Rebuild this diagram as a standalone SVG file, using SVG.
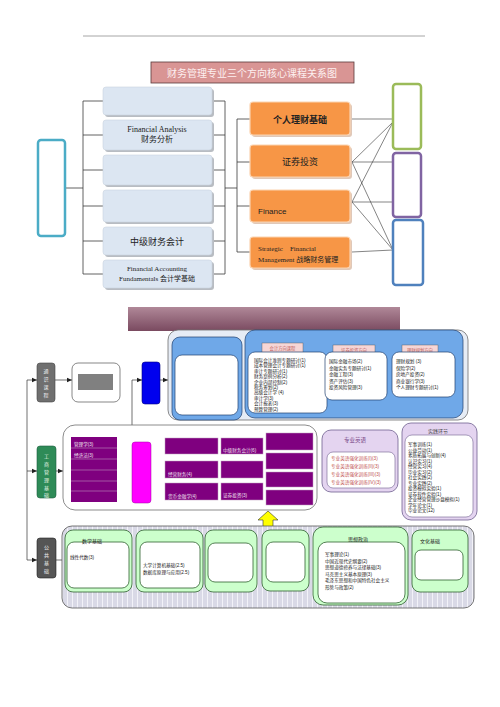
<svg xmlns="http://www.w3.org/2000/svg" width="500" height="707" viewBox="0 0 500 707">
<defs>
<style>
.lb{fill:#dce6f2;stroke:#c9d3df;stroke-width:0.6}
.sh{fill:#b8bcc2}
.or{fill:#f79646;stroke:#fbd3b0;stroke-width:1.2}
.ln{fill:none;stroke:#3a3a3a;stroke-width:0.8}
.xl{fill:none;stroke:#333;stroke-width:0.6}
.cn{fill:none;stroke:#333;stroke-width:0.7}
.pu{fill:#7f007f;stroke:#c0a0c0;stroke-width:0.5}
.gb{fill:#ccffcc;stroke:#2f5f2f;stroke-width:0.8}
.wb{fill:#fff;stroke:#2f5f2f;stroke-width:0.8}
.wbb{fill:#fff;stroke:#1f3f6f;stroke-width:0.7}
.cjk{font-family:"Liberation Sans","Noto Sans CJK SC",sans-serif}
.ser{font-family:"Liberation Serif","Noto Sans CJK SC",serif}
.t5{font-size:4.6px;fill:#222;font-family:"Liberation Sans","Noto Sans CJK SC",sans-serif}
.tw{font-size:4.6px;fill:#f0e0f0;font-family:"Liberation Sans","Noto Sans CJK SC",sans-serif}
.tr{font-size:4.6px;fill:#c0504d;font-family:"Liberation Sans","Noto Sans CJK SC",sans-serif}
</style>
<linearGradient id="ban" x1="0" y1="0" x2="0" y2="1">
<stop offset="0" stop-color="#b08898"/>
<stop offset="1" stop-color="#7a4a60"/>
</linearGradient>
<pattern id="str" width="5" height="10" patternUnits="userSpaceOnUse">
<rect width="5" height="10" fill="#d9d9e6"/>
<line x1="2.5" y1="0" x2="2.5" y2="10" stroke="#f2f2f8" stroke-width="1"/>
</pattern>
<marker id="ar" markerWidth="6" markerHeight="6" refX="5" refY="3" orient="auto" markerUnits="userSpaceOnUse">
<path d="M0,0.8 L5,3 L0,5.2 Z" fill="#222"/>
</marker>
</defs>
<rect width="500" height="707" fill="#fff"/>
<line x1="83" y1="36" x2="425" y2="36" stroke="#a6a6a6" stroke-width="1"/>

<g id="title">
<rect x="151" y="62" width="203" height="21" fill="#d99594" stroke="#5a3a3a" stroke-width="0.8"/>
<text x="252" y="77" font-size="10" fill="#fdf0f0" text-anchor="middle" class="cjk">财务管理专业三个方向核心课程关系图</text>
</g>

<g id="connectors-top">
<path class="ln" d="M65,188 H83 M83,101 V274 M83,101 H103 M83,135 H103 M83,170 H103 M83,206 H103 M83,241 H103 M83,274 H103"/>
<path class="ln" d="M212,101 H225 M212,135 H225 M212,170 H225 M212,206 H225 M212,241 H225 M212,274 H225 M225,101 V274 M225,188 H237"/>
<path class="ln" d="M237,119 V252 M237,119 H250 M237,162 H250 M237,206 H250 M237,252 H250"/>
<path class="xl" d="M352,119 L393,119 M352,162 L393,122 M352,162 L393,162 M352,162 L393,250 M352,202 L393,122 M352,202 L393,202 M352,202 L393,250 M352,252 L393,250"/>
</g>

<g id="teal-box"><rect x="38" y="140" width="27" height="96" rx="3" fill="#fff" stroke="#4bacc6" stroke-width="2.5"/></g>

<g id="lb1"><rect class="sh" x="105" y="89" width="109" height="28" rx="3"/><rect class="lb" x="103" y="87" width="109" height="28" rx="3"/></g>
<g id="lb2"><rect class="sh" x="105" y="122" width="109" height="30" rx="3"/><rect class="lb" x="103" y="120" width="109" height="30" rx="3"/>
<text x="157" y="132" font-size="8" fill="#222" text-anchor="middle" class="ser">Financial Analysis</text>
<text x="157" y="142" font-size="8" fill="#222" text-anchor="middle" class="ser">财务分析</text></g>
<g id="lb3"><rect class="sh" x="105" y="157" width="109" height="30" rx="3"/><rect class="lb" x="103" y="155" width="109" height="30" rx="3"/></g>
<g id="lb4"><rect class="sh" x="105" y="192" width="109" height="32" rx="3"/><rect class="lb" x="103" y="190" width="109" height="32" rx="3"/></g>
<g id="lb5"><rect class="sh" x="105" y="229" width="109" height="28" rx="3"/><rect class="lb" x="103" y="227" width="109" height="28" rx="3"/>
<text x="157" y="245" font-size="9" fill="#222" text-anchor="middle" class="cjk">中级财务会计</text></g>
<g id="lb6"><rect class="sh" x="105" y="262" width="109" height="28" rx="3"/><rect class="lb" x="103" y="260" width="109" height="28" rx="3"/>
<text x="157" y="271" font-size="7" fill="#222" text-anchor="middle" class="ser">Financial Accounting</text>
<text x="157" y="281" font-size="7" fill="#222" text-anchor="middle" class="ser">Fundamentals  会计学基础</text></g>

<g id="or1"><rect x="252" y="104" width="100" height="33" rx="3" fill="#e0c8b8"/><rect class="or" x="250" y="102" width="100" height="33" rx="3"/>
<text x="300" y="123" font-size="9" fill="#222" text-anchor="middle" class="cjk" font-weight="bold">个人理财基础</text></g>
<g id="or2"><rect x="252" y="147" width="100" height="32" rx="3" fill="#e0c8b8"/><rect class="or" x="250" y="145" width="100" height="32" rx="3"/>
<text x="300" y="165" font-size="9" fill="#222" text-anchor="middle" class="cjk">证券投资</text></g>
<g id="or3"><rect x="252" y="192" width="100" height="32" rx="3" fill="#e0c8b8"/><rect class="or" x="250" y="190" width="100" height="32" rx="3"/>
<text x="258" y="214" font-size="8" fill="#222" class="cjk">Finance</text></g>
<g id="or4"><rect x="252" y="239" width="100" height="31" rx="3" fill="#e0c8b8"/><rect class="or" x="250" y="237" width="100" height="31" rx="3"/>
<text x="258" y="251" font-size="7" fill="#222" class="ser" xml:space="preserve">Strategic    Financial</text>
<text x="258" y="262" font-size="7" fill="#222" class="ser">Management 战略财务管理</text></g>

<g id="green-box"><rect x="393" y="84" width="28" height="65" rx="3" fill="#fff" stroke="#9bbb59" stroke-width="2.5"/></g>
<g id="purple-box"><rect x="393" y="153" width="28" height="64" rx="3" fill="#fff" stroke="#8064a2" stroke-width="2.5"/></g>
<g id="blue-box"><rect x="393" y="220" width="30" height="65" rx="3" fill="#fff" stroke="#4f81bd" stroke-width="2.5"/></g>

<g id="banner"><rect x="128" y="307" width="272" height="24" fill="url(#ban)"/></g>

<g id="connectors-bottom">
<path class="cn" d="M27,380 V560"/>
<path class="cn" d="M27,380 H37" marker-end="url(#ar)"/>
<path class="cn" d="M27,471 H37" marker-end="url(#ar)"/>
<path class="cn" d="M27,560 H37" marker-end="url(#ar)"/>
<path class="cn" d="M55,380 H72" marker-end="url(#ar)"/>
<path class="cn" d="M132,425 V380 H142" marker-end="url(#ar)"/>
<path class="cn" d="M160,380 H168" marker-end="url(#ar)"/>
<path class="cn" d="M56,471 H63" marker-end="url(#ar)"/>
<path class="cn" d="M151,471 H160" marker-end="url(#ar)"/>
<path class="cn" d="M162,446 V492 M162,446 H165 M162,469 H165 M162,492 H165"/>
<path class="cn" d="M56,560 H62"/>
<path d="M117,467 H126 V462 L134,471 L126,480 V475 H117 Z" fill="#f26522" stroke="#c04000" stroke-width="0.4"/>
<path d="M263,530 V520 H258 L268,511 L278,520 H273 V530 Z" fill="#ffff00" stroke="#333" stroke-width="0.6"/>
</g>

<g id="tongshi">
<rect x="37" y="363" width="18" height="39" rx="3" fill="#6f6f6f" stroke="#444" stroke-width="0.6"/>
<text x="46" y="373" font-size="5" fill="#eee" text-anchor="middle" class="cjk">通</text>
<text x="46" y="381" font-size="5" fill="#eee" text-anchor="middle" class="cjk">识</text>
<text x="46" y="389" font-size="5" fill="#eee" text-anchor="middle" class="cjk">课</text>
<text x="46" y="397" font-size="5" fill="#eee" text-anchor="middle" class="cjk">程</text>
</g>
<g id="tongshi-box">
<rect x="72" y="363" width="48" height="39" rx="6" fill="#fff" stroke="#555" stroke-width="0.7"/>
<rect x="78" y="374" width="35" height="16" fill="#808080"/>
</g>
<g id="blue-node"><rect x="142" y="362" width="18" height="42" rx="3" fill="#0000ee" stroke="#000080" stroke-width="0.6"/></g>

<g id="direction-container">
<rect x="168" y="330" width="300" height="90" rx="10" fill="#e6ecf5" stroke="#6f6f6f" stroke-width="0.8"/>
<rect x="172" y="337" width="70" height="83" rx="8" fill="#6fa8e8" stroke="#1f3f6f" stroke-width="0.7"/>
<rect x="175" y="355" width="63" height="60" rx="7" class="wbb"/>
<rect x="245" y="330" width="218" height="88" rx="10" fill="#6fa8e8" stroke="#1f3f6f" stroke-width="0.7"/>
</g>
<g id="dir-accounting">
<rect x="262" y="343" width="41" height="10" fill="#f6d6d6" stroke="#555" stroke-width="0.4"/>
<text x="282.5" y="350" font-size="4.3" fill="#c06060" text-anchor="middle" class="cjk">会计方向课程</text>
<rect x="248" y="352" width="79" height="61" rx="7" class="wbb"/>
<text class="t5" x="254" y="362">国际会计准则专题研讨(1)</text>
<text class="t5" x="254" y="367.4">成本管理会计专题研讨(1)</text>
<text class="t5" x="254" y="372.8">审计专题研讨(1)</text>
<text class="t5" x="254" y="378.2">财务案例分析(2)</text>
<text class="t5" x="254" y="383.6">企业内部控制(2)</text>
<text class="t5" x="254" y="389">税务筹划(2)</text>
<text class="t5" x="254" y="394.4">高级会计学 (4)</text>
<text class="t5" x="254" y="399.8">审计学(3)</text>
<text class="t5" x="254" y="405.2">会计报表(3)</text>
<text class="t5" x="254" y="410.6">预算管理(2)</text>
</g>
<g id="dir-securities">
<rect x="333" y="345" width="42" height="9" fill="#f6d6d6" stroke="#555" stroke-width="0.4"/>
<text x="354" y="351.5" font-size="4.3" fill="#c06060" text-anchor="middle" class="cjk">证券投资方向</text>
<rect x="325" y="352" width="62" height="48" rx="7" class="wbb"/>
<text class="t5" x="329" y="363">国际金融市场(2)</text>
<text class="t5" x="329" y="369.5">金融实务专题研讨(1)</text>
<text class="t5" x="329" y="376">金融工程(3)</text>
<text class="t5" x="329" y="382.5">资产评估(3)</text>
<text class="t5" x="329" y="389">投资风险管理(3)</text>
</g>
<g id="dir-finance">
<rect x="402" y="345" width="36" height="9" fill="#f6d6d6" stroke="#555" stroke-width="0.4"/>
<text x="420" y="351.5" font-size="4.3" fill="#c06060" text-anchor="middle" class="cjk">理财规划方向</text>
<rect x="392" y="352" width="63" height="45" rx="7" class="wbb"/>
<text class="t5" x="396" y="363">理财规划 (3)</text>
<text class="t5" x="396" y="369.5">保险学(2)</text>
<text class="t5" x="396" y="376">房地产投资(2)</text>
<text class="t5" x="396" y="382.5">商业银行学(3)</text>
<text class="t5" x="396" y="389">个人理财专题研讨(1)</text>
</g>

<g id="gongshang">
<rect x="37" y="446" width="19" height="52" rx="3" fill="#2e8b57" stroke="#1f5f3f" stroke-width="0.6"/>
<text x="46.5" y="458" font-size="5" fill="#e8f5e8" text-anchor="middle" class="cjk">工</text>
<text x="46.5" y="466" font-size="5" fill="#e8f5e8" text-anchor="middle" class="cjk">商</text>
<text x="46.5" y="474" font-size="5" fill="#e8f5e8" text-anchor="middle" class="cjk">管</text>
<text x="46.5" y="482" font-size="5" fill="#e8f5e8" text-anchor="middle" class="cjk">理</text>
<text x="46.5" y="490" font-size="5" fill="#e8f5e8" text-anchor="middle" class="cjk">基</text>
<text x="46.5" y="497" font-size="5" fill="#e8f5e8" text-anchor="middle" class="cjk">础</text>
</g>
<g id="gongshang-container">
<rect x="63" y="425" width="254" height="85" rx="12" fill="#fff" stroke="#6f6f6f" stroke-width="0.8"/>
</g>
<g id="gs-list">
<rect x="71" y="437" width="46" height="65" fill="#7f007f"/>
<path d="M71,448 H117 M71,459 H117 M71,470 H117 M71,481 H117 M71,491 H117" stroke="#c8a8c8" stroke-width="0.5"/>
<text class="tw" x="74" y="446">管理学(3)</text>
<text class="tw" x="74" y="457">经济法(3)</text>
</g>
<g id="gs-magenta"><rect x="132" y="442" width="19" height="61" rx="3" fill="#ff00ff" stroke="#a000a0" stroke-width="0.5"/></g>
<g id="gs-c1r1"><rect class="pu" x="165" y="438" width="53" height="16"/></g>
<g id="gs-c1r2"><rect class="pu" x="165" y="461" width="53" height="17"/><text class="tw" x="168" y="476">经营财务(4)</text></g>
<g id="gs-c1r3"><rect class="pu" x="165" y="483" width="53" height="17"/><text class="tw" x="168" y="498">货币金融学(4)</text></g>
<g id="gs-c2r1"><rect class="pu" x="221" y="438" width="42" height="16"/><text class="tw" x="223" y="452">中级财务会计(6)</text></g>
<g id="gs-c2r2"><rect class="pu" x="221" y="461" width="42" height="17"/></g>
<g id="gs-c2r3"><rect class="pu" x="221" y="483" width="42" height="17"/><text class="tw" x="223" y="497">证券投资(3)</text></g>
<g id="gs-c3r1"><rect class="pu" x="266" y="433" width="47" height="17"/></g>
<g id="gs-c3r2"><rect class="pu" x="266" y="453" width="47" height="16"/></g>
<g id="gs-c3r3"><rect class="pu" x="266" y="472" width="47" height="15"/></g>
<g id="gs-c3r4"><rect class="pu" x="266" y="490" width="47" height="15"/></g>

<g id="english">
<rect x="322" y="430" width="76" height="62" rx="9" fill="#e4d4f0" stroke="#6f5f8f" stroke-width="0.8"/>
<text x="355" y="442" font-size="5.5" fill="#7a4a8a" text-anchor="middle" class="cjk">专业英语</text>
<rect x="327" y="452" width="68" height="36" rx="6" fill="#fff" stroke="#6f5f8f" stroke-width="0.6"/>
<text class="tr" x="331" y="460">专业英语强化训练(I)(3)</text>
<text class="tr" x="331" y="468">专业英语强化训练(II)(3)</text>
<text class="tr" x="331" y="476">专业英语强化训练(III)(3)</text>
<text class="tr" x="331" y="484">专业英语强化训练(IV)(3)</text>
</g>

<g id="practice">
<rect x="402" y="423" width="75" height="97" rx="9" fill="#e4d4f0" stroke="#6f5f8f" stroke-width="0.8"/>
<rect x="405" y="435" width="68" height="82" rx="7" fill="#fff" stroke="#6f5f8f" stroke-width="0.6"/>
<text x="438" y="433" font-size="5" fill="#444" text-anchor="middle" class="cjk">实践环节</text>
<text class="t5" x="408" y="446">军事训练(1)</text>
<text class="t5" x="408" y="451.5">公益劳动(1)</text>
<text class="t5" x="408" y="457">素质拓展与创新(4)</text>
<text class="t5" x="408" y="462.5">认识实习(1)</text>
<text class="t5" x="408" y="468">经营实习(4)</text>
<text class="t5" x="408" y="473.5">毕业实习(2)</text>
<text class="t5" x="408" y="479">社会实践(2)</text>
<text class="t5" x="408" y="484.5">专业实践(2)</text>
<text class="t5" x="408" y="490">投资模拟实验(1)</text>
<text class="t5" x="408" y="495.5">证券软件实验(1)</text>
<text class="t5" x="408" y="501">企业经营管理沙盘模拟(1)</text>
<text class="t5" x="408" y="506.5">学年论文(1)</text>
<text class="t5" x="408" y="512">毕业论文(12)</text>
</g>

<g id="gonggong">
<rect x="37" y="538" width="19" height="40" rx="3" fill="#555" stroke="#222" stroke-width="0.6"/>
<text x="46.5" y="549" font-size="5" fill="#eee" text-anchor="middle" class="cjk">公</text>
<text x="46.5" y="557" font-size="5" fill="#eee" text-anchor="middle" class="cjk">共</text>
<text x="46.5" y="565" font-size="5" fill="#eee" text-anchor="middle" class="cjk">基</text>
<text x="46.5" y="573" font-size="5" fill="#eee" text-anchor="middle" class="cjk">础</text>
</g>
<g id="gonggong-container">
<rect x="62" y="526" width="412" height="82" rx="10" fill="url(#str)" stroke="#555" stroke-width="0.8"/>
</g>
<g id="math">
<rect class="gb" x="65" y="530" width="67" height="62" rx="8"/>
<rect class="wb" x="67" y="542" width="62" height="46" rx="7"/>
<text x="92" y="543" font-size="5" fill="#222" text-anchor="middle" class="cjk">数学基础</text>
<text class="t5" x="70" y="559">线性代数(3)</text>
</g>
<g id="computer">
<rect class="gb" x="136" y="530" width="67" height="62" rx="8"/>
<rect class="wb" x="140" y="542" width="60" height="46" rx="7"/>
<text class="t5" x="143" y="567">大学计算机基础(2.5)</text>
<text class="t5" x="143" y="574">数据库原理与应用(2.5)</text>
</g>
<g id="g3">
<rect class="gb" x="205" y="530" width="52" height="62" rx="8"/>
<rect class="wb" x="208" y="543" width="45" height="39" rx="7"/>
</g>
<g id="g4">
<rect class="gb" x="262" y="530" width="47" height="61" rx="8"/>
<rect class="wb" x="266" y="542" width="39" height="40" rx="7"/>
</g>
<g id="politics">
<rect class="gb" x="313" y="527" width="95" height="78" rx="10"/>
<rect class="wb" x="318" y="542" width="87" height="61" rx="9"/>
<text x="358" y="541" font-size="5" fill="#222" text-anchor="middle" class="cjk">思想政治</text>
<text class="t5" x="325" y="556">军事理论(1)</text>
<text class="t5" x="325" y="562.5">中国近现代史纲要(2)</text>
<text class="t5" x="325" y="569">思想道德修养与法律基础(3)</text>
<text class="t5" x="325" y="575.5">马克思主义基本原理(3)</text>
<text class="t5" x="325" y="582">毛泽东思想和中国特色社会主义</text>
<text class="t5" x="325" y="588.5">形势与政策(2)</text>
</g>
<g id="culture">
<rect class="gb" x="412" y="530" width="56" height="62" rx="8"/>
<rect class="wb" x="415" y="550" width="48" height="30" rx="6"/>
<text x="420" y="543" font-size="5" fill="#222" class="cjk">文化基础</text>
</g>
</svg>
